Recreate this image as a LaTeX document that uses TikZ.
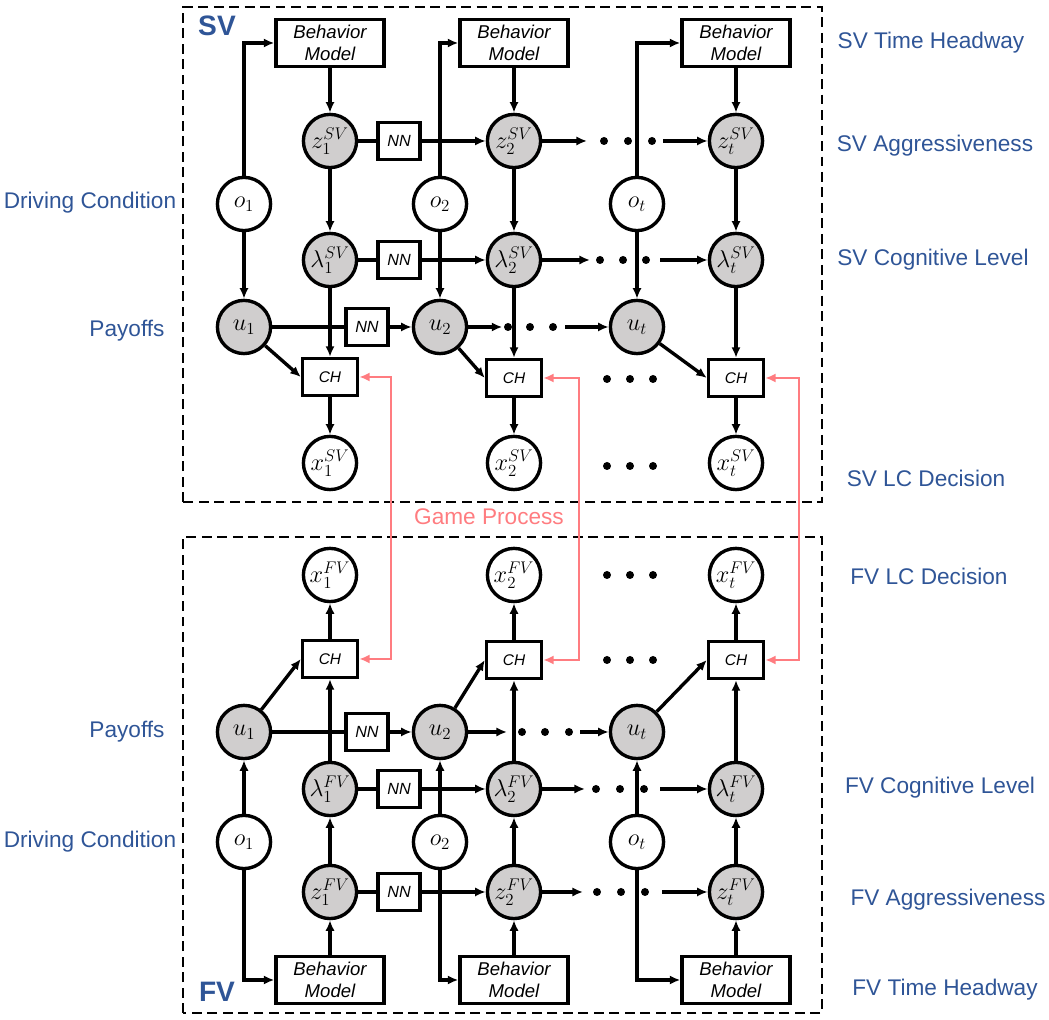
\documentclass[tikz,border=0pt]{standalone}
\usepackage{tikz}
\usepackage{amsmath}
\usepackage{fontspec}
\setmainfont{Liberation Sans}
\usetikzlibrary{calc,arrows,arrows.meta,shapes,backgrounds,positioning}
\definecolor{lblue}{HTML}{2F5597}
\definecolor{gpred}{HTML}{FF7C80}
\definecolor{hgray}{HTML}{D0CECE}

\begin{document}
\begin{tikzpicture}[>={Latex[length=7.5pt,width=6.5pt]}, line width=2.4pt,
    obs/.style={circle, draw, fill=white, minimum size=1.33cm, inner sep=0pt, font=\fontsize{17}{20}\selectfont},
    hid/.style={obs, fill=hgray},
    bmod/.style={rectangle, draw, minimum width=2.7cm, minimum height=1.175cm, align=center, inner sep=1pt, font=\fontsize{13.2}{15.6}\selectfont\itshape},
    nn/.style={rectangle, draw, minimum width=1.05cm, minimum height=0.925cm, inner sep=1pt, font=\fontsize{11.5}{13}\selectfont\itshape},
    ch/.style={nn, minimum width=1.375cm, font=\fontsize{11}{13}\selectfont\itshape},
    dotn/.style={circle, fill, minimum size=0.2cm, inner sep=0pt},
    lab/.style={text=lblue, font=\fontsize{16.1}{19}\selectfont},
    gp/.style={draw=gpred, line width=1.7pt, <->}]
  \useasboundingbox (0,0) rectangle (26.225,25.5);
  % frames
  \draw[line width=1.5pt, dash pattern=on 7pt off 4pt] (4.575,12.95) rectangle (20.55,25.325);
  \draw[line width=1.5pt, dash pattern=on 7pt off 4pt] (4.575,0.175) rectangle (20.55,12.075);
  \node[text=lblue, font=\fontsize{20}{24}\selectfont\bfseries] (svt) at (5.425,24.85) {SV};
  \node[text=lblue, font=\fontsize{20}{24}\selectfont\bfseries] (fvt) at (5.425,0.7) {FV};

  % SV part
  \node[bmod] (sbm1) at (8.25,24.425) {Behavior\\Model};
  \node[bmod] (sbm2) at (12.85,24.425) {Behavior\\Model};
  \node[bmod] (sbm3) at (18.4,24.425) {Behavior\\Model};
  \node[hid] (sz1) at (8.25,21.975) {$z_1^{SV}$};
  \node[hid] (sz2) at (12.85,21.975) {$z_2^{SV}$};
  \node[hid] (sz3) at (18.4,21.975) {$z_t^{SV}$};
  \node[obs] (so1) at (6.1,20.4) {$o_1$};
  \node[obs] (so2) at (11.0,20.4) {$o_2$};
  \node[obs] (so3) at (15.925,20.4) {$o_t$};
  \node[hid] (sl1) at (8.25,19.0) {$\lambda_1^{SV}$};
  \node[hid] (sl2) at (12.85,19.0) {$\lambda_2^{SV}$};
  \node[hid] (sl3) at (18.4,19.0) {$\lambda_t^{SV}$};
  \node[hid] (su1) at (6.1,17.325) {$u_1$};
  \node[hid] (su2) at (11.0,17.325) {$u_2$};
  \node[hid] (su3) at (15.925,17.325) {$u_t$};
  \node[ch] (sch1) at (8.25,16.075) {CH};
  \node[ch] (sch2) at (12.85,16.05) {CH};
  \node[ch] (sch3) at (18.4,16.05) {CH};
  \node[obs] (sx1) at (8.25,13.925) {$x_1^{SV}$};
  \node[obs] (sx2) at (12.85,13.925) {$x_2^{SV}$};
  \node[obs] (sx3) at (18.4,13.925) {$x_t^{SV}$};
  \node[nn] (snz) at (9.975,21.975) {NN};
  \node[nn] (snl) at (9.975,19.0) {NN};
  \node[nn] (snu) at (9.175,17.325) {NN};

  \coordinate (sza) at (14.675,21.975);
  \node[dotn] (szd1) at (15.1,21.975) {};
  \node[dotn] (szd2) at (15.7,21.975) {};
  \node[dotn] (szd3) at (16.3,21.975) {};
  \coordinate (szb) at (16.575,21.975);
  \coordinate (sla) at (14.75,19.0);
  \node[dotn] (sld1) at (15.0,19.0) {};
  \node[dotn] (sld2) at (15.575,19.0) {};
  \node[dotn] (sld3) at (16.15,19.0) {};
  \coordinate (slb) at (16.5,19.0);
  \node[dotn] (sud1) at (12.7,17.325) {};
  \node[dotn] (sud2) at (13.25,17.325) {};
  \node[dotn] (sud3) at (13.825,17.325) {};
  \coordinate (sub) at (14.125,17.325);
  \node[dotn] (scd1) at (15.175,16.025) {};
  \node[dotn] (scd2) at (15.75,16.025) {};
  \node[dotn] (scd3) at (16.325,16.025) {};
  \node[dotn] (sxd1) at (15.175,13.85) {};
  \node[dotn] (sxd2) at (15.75,13.85) {};
  \node[dotn] (sxd3) at (16.325,13.85) {};

  \draw[->] (so1.north) |- (sbm1.west);
  \draw[->] (so2.north) |- (sbm2.west);
  \draw[->] (so3.north) |- (sbm3.west);
  \draw[->] (so1) -- (su1);
  \draw[->] (so2) -- (su2);
  \draw[->] (so3) -- (su3);
  \draw[->] (sbm1) -- (sz1);
  \draw[->] (sbm2) -- (sz2);
  \draw[->] (sbm3) -- (sz3);
  \draw[->] (sz1) -- (sl1);
  \draw[->] (sz2) -- (sl2);
  \draw[->] (sz3) -- (sl3);
  \draw[->] (sl1) -- (sch1);
  \draw[->] (sl2) -- (sch2);
  \draw[->] (sl3) -- (sch3);
  \draw[->] (su1) -- (sch1.west);
  \draw[->] (su2) -- (sch2.west);
  \draw[->] (su3) -- (sch3.west);
  \draw[->] (sch1) -- (sx1);
  \draw[->] (sch2) -- (sx2);
  \draw[->] (sch3) -- (sx3);
  \draw (sz1) -- (snz);
  \draw[->] (snz) -- (sz2);
  \draw (sl1) -- (snl);
  \draw[->] (snl) -- (sl2);
  \draw (su1) -- (snu);
  \draw[->] (snu) -- (su2);
  \draw[->] (sz2) -- (sza);
  \draw[->] (szb) -- (sz3);
  \draw[->] (sl2) -- (sla);
  \draw[->] (slb) -- (sl3);
  \draw[->] (su2) -- (sud1);
  \draw[->] (sub) -- (su3);

  % FV part
  \node[obs] (fx1) at (8.25,11.125) {$x_1^{FV}$};
  \node[obs] (fx2) at (12.85,11.125) {$x_2^{FV}$};
  \node[obs] (fx3) at (18.4,11.125) {$x_t^{FV}$};
  \node[ch] (fch1) at (8.25,9.025) {CH};
  \node[ch] (fch2) at (12.85,9.0) {CH};
  \node[ch] (fch3) at (18.4,9.0) {CH};
  \node[hid] (fu1) at (6.1,7.2) {$u_1$};
  \node[hid] (fu2) at (11.0,7.2) {$u_2$};
  \node[hid] (fu3) at (15.925,7.2) {$u_t$};
  \node[hid] (fl1) at (8.25,5.775) {$\lambda_1^{FV}$};
  \node[hid] (fl2) at (12.85,5.775) {$\lambda_2^{FV}$};
  \node[hid] (fl3) at (18.4,5.775) {$\lambda_t^{FV}$};
  \node[obs] (fo1) at (6.1,4.45) {$o_1$};
  \node[obs] (fo2) at (11.0,4.45) {$o_2$};
  \node[obs] (fo3) at (15.925,4.45) {$o_t$};
  \node[hid] (fz1) at (8.25,3.2) {$z_1^{FV}$};
  \node[hid] (fz2) at (12.85,3.2) {$z_2^{FV}$};
  \node[hid] (fz3) at (18.4,3.2) {$z_t^{FV}$};
  \node[bmod] (fbm1) at (8.25,1.0) {Behavior\\Model};
  \node[bmod] (fbm2) at (12.85,1.0) {Behavior\\Model};
  \node[bmod] (fbm3) at (18.4,1.0) {Behavior\\Model};
  \node[nn] (fnu) at (9.175,7.2) {NN};
  \node[nn] (fnl) at (9.975,5.775) {NN};
  \node[nn] (fnz) at (9.975,3.2) {NN};

  \node[dotn] (fxd1) at (15.175,11.125) {};
  \node[dotn] (fxd2) at (15.75,11.125) {};
  \node[dotn] (fxd3) at (16.325,11.125) {};
  \node[dotn] (fcd1) at (15.175,9.0) {};
  \node[dotn] (fcd2) at (15.75,9.0) {};
  \node[dotn] (fcd3) at (16.325,9.0) {};
  \coordinate (fua) at (12.675,7.2);
  \node[dotn] (fud1) at (13.05,7.2) {};
  \node[dotn] (fud2) at (13.625,7.2) {};
  \node[dotn] (fud3) at (14.225,7.2) {};
  \coordinate (fub) at (14.5,7.2);
  \coordinate (fla) at (14.625,5.775);
  \node[dotn] (fld1) at (14.9,5.775) {};
  \node[dotn] (fld2) at (15.5,5.775) {};
  \node[dotn] (fld3) at (16.1,5.775) {};
  \coordinate (flb) at (16.5,5.775);
  \coordinate (fza) at (14.575,3.2);
  \node[dotn] (fzd1) at (14.925,3.2) {};
  \node[dotn] (fzd2) at (15.525,3.2) {};
  \node[dotn] (fzd3) at (16.125,3.2) {};
  \coordinate (fzb) at (16.55,3.2);

  \draw[->] (fo1.south) |- (fbm1.west);
  \draw[->] (fo2.south) |- (fbm2.west);
  \draw[->] (fo3.south) |- (fbm3.west);
  \draw[->] (fo1) -- (fu1);
  \draw[->] (fo2) -- (fu2);
  \draw[->] (fo3) -- (fu3);
  \draw[->] (fbm1) -- (fz1);
  \draw[->] (fbm2) -- (fz2);
  \draw[->] (fbm3) -- (fz3);
  \draw[->] (fz1) -- (fl1);
  \draw[->] (fz2) -- (fl2);
  \draw[->] (fz3) -- (fl3);
  \draw[->] (fl1) -- (fch1);
  \draw[->] (fl2) -- (fch2);
  \draw[->] (fl3) -- (fch3);
  \draw[->] (fu1) -- (fch1.west);
  \draw[->] (fu2) -- (fch2.west);
  \draw[->] (fu3) -- (fch3.west);
  \draw[->] (fch1) -- (fx1);
  \draw[->] (fch2) -- (fx2);
  \draw[->] (fch3) -- (fx3);
  \draw (fz1) -- (fnz);
  \draw[->] (fnz) -- (fz2);
  \draw (fl1) -- (fnl);
  \draw[->] (fnl) -- (fl2);
  \draw (fu1) -- (fnu);
  \draw[->] (fnu) -- (fu2);
  \draw[->] (fz2) -- (fza);
  \draw[->] (fzb) -- (fz3);
  \draw[->] (fl2) -- (fla);
  \draw[->] (flb) -- (fl3);
  \draw[->] (fu2) -- (fua);
  \draw[->] (fub) -- (fu3);

  % game process
  \draw[gp] (sch1.east) -- ++(0.8,0) |- (fch1.east);
  \draw[gp] (sch2.east) -- ++(0.9,0) |- (fch2.east);
  \draw[gp] (sch3.east) -- ++(0.85,0) |- (fch3.east);
  \node[text=gpred, font=\fontsize{16.1}{19}\selectfont] (gpl) at (12.225,12.575) {Game Process};

  % labels
  \node[lab] (sdc) at (2.25,20.425) {Driving Condition};
  \node[lab] (spo) at (3.175,17.225) {Payoffs};
  \node[lab] (fpo) at (3.175,7.2) {Payoffs};
  \node[lab] (fdc) at (2.25,4.45) {Driving Condition};
  \node[lab] (sth) at (23.275,24.425) {SV Time Headway};
  \node[lab] (sag) at (23.375,21.85) {SV Aggressiveness};
  \node[lab] (scl) at (23.325,19.0) {SV Cognitive Level};
  \node[lab] (slc) at (23.15,13.55) {SV LC Decision};
  \node[lab] (flc) at (23.225,11.1) {FV LC Decision};
  \node[lab] (fcl) at (23.5,5.8) {FV Cognitive Level};
  \node[lab] (fag) at (23.7,3.0) {FV Aggressiveness};
  \node[lab] (fth) at (23.625,0.75) {FV Time Headway};
\end{tikzpicture}
\end{document}
